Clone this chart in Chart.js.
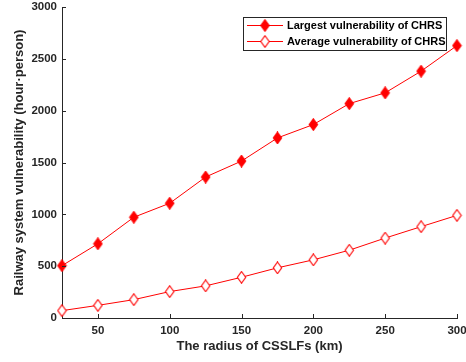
<!DOCTYPE html>
<html>
<head>
<meta charset="utf-8">
<script src="https://cdn.jsdelivr.net/npm/chart.js@4/dist/chart.umd.min.js"></script>
<style>
html,body{margin:0;padding:0;background:#fff;}
#wrap{width:466px;height:362px;position:relative;}
</style>
</head>
<body>
<div id="wrap"><canvas id="c" width="466" height="362"></canvas></div>
<script>
const radius = [25, 50, 75, 100, 125, 150, 175, 200, 225, 250, 275, 300];
const largestVuln = [505, 716, 972, 1107, 1360, 1514, 1737, 1866, 2068, 2172, 2381, 2628];
const averageVuln = [71, 122, 177, 255, 310, 393, 484, 561, 654, 771, 881, 990];
const xTicks = [50, 100, 150, 200, 250, 300];
const yTicks = [0, 500, 1000, 1500, 2000, 2500, 3000];
const seriesNames = ['Largest vulnerability of CHRS', 'Average vulnerability of CHRS'];
const xTitle = 'The radius of CSSLFs (km)';
const yTitle = 'Railway system vulnerability (hour\u00B7person)';

const RED = '#ff0000';
const AX = '#262626';
const FONT = '"Liberation Sans", Arial, sans-serif';

function diamondPath(ctx, cx, cy, hw, hh) {
  ctx.beginPath();
  ctx.moveTo(cx, cy - hh);
  ctx.lineTo(cx + hw, cy);
  ctx.lineTo(cx, cy + hh);
  ctx.lineTo(cx - hw, cy);
  ctx.closePath();
}
function makeDiamond(filled) {
  const cv = document.createElement('canvas');
  cv.width = 11; cv.height = 13;
  const g = cv.getContext('2d');
  diamondPath(g, 5.5, 6.5, 4.2, 5.8);
  g.fillStyle = filled ? RED : '#ffffff';
  g.fill();
  g.strokeStyle = RED;
  g.lineWidth = 1.1;
  g.stroke();
  return cv;
}
const dFilled = makeDiamond(true);
const dOpen = makeDiamond(false);

const innerTicks = {
  id: 'innerTicks',
  afterDraw(chart) {
    const {ctx, chartArea: a, scales: {x, y}} = chart;
    ctx.save();
    ctx.strokeStyle = AX;
    ctx.lineWidth = 1;
    ctx.beginPath();
    xTicks.forEach(v => {
      const px = Math.round(x.getPixelForValue(v)) + 0.5;
      ctx.moveTo(px, a.bottom);
      ctx.lineTo(px, a.bottom - 4);
    });
    yTicks.forEach(v => {
      const py = Math.round(y.getPixelForValue(v)) + 0.5;
      ctx.moveTo(a.left, py);
      ctx.lineTo(a.left + 4, py);
    });
    ctx.stroke();
    ctx.restore();
  }
};

const boxLegend = {
  id: 'boxLegend',
  afterDraw(chart) {
    const ctx = chart.ctx;
    const L = 243.5, R = 446.5, T = 17.5, B = 50.5;
    ctx.save();
    ctx.fillStyle = '#ffffff';
    ctx.fillRect(L, T, R - L, B - T);
    ctx.strokeStyle = AX;
    ctx.lineWidth = 1;
    ctx.strokeRect(L, T, R - L, B - T);
    const rows = [25.5, 41.5];
    const imgs = [dFilled, dOpen];
    rows.forEach((ry, i) => {
      ctx.strokeStyle = RED;
      ctx.beginPath();
      ctx.moveTo(247, ry);
      ctx.lineTo(283, ry);
      ctx.stroke();
      ctx.drawImage(imgs[i], 265 - 5.5, ry - 6.5);
      ctx.fillStyle = '#000000';
      ctx.font = 'bold 11px ' + FONT;
      ctx.textAlign = 'left';
      ctx.textBaseline = 'middle';
      ctx.fillText(seriesNames[i], 287, ry + 0.5);
    });
    ctx.restore();
  }
};

new Chart(document.getElementById('c'), {
  type: 'line',
  data: {
    datasets: [
      {
        label: seriesNames[0],
        data: radius.map((r, i) => ({x: r, y: largestVuln[i]})),
        borderColor: RED, backgroundColor: RED, borderWidth: 1,
        pointStyle: dFilled, tension: 0, clip: false
      },
      {
        label: seriesNames[1],
        data: radius.map((r, i) => ({x: r, y: averageVuln[i]})),
        borderColor: RED, backgroundColor: '#ffffff', borderWidth: 1,
        pointStyle: dOpen, tension: 0, clip: false
      }
    ]
  },
  options: {
    responsive: false,
    animation: false,
    events: [],
    layout: {padding: {top: 7, right: 0, left: 0, bottom: 0}},
    plugins: {legend: {display: false}, tooltip: {enabled: false}},
    scales: {
      x: {
        type: 'linear', min: 25, max: 300,
        afterBuildTicks: s => { s.ticks = xTicks.map(v => ({value: v})); },
        afterFit: s => { s.height = 44; s.paddingLeft = 0; s.paddingRight = 9; },
        grid: {display: false, drawTicks: false},
        border: {display: true, color: AX, width: 1},
        ticks: {color: AX, padding: 6, font: {family: FONT, size: 11.5, weight: 'bold'}, maxRotation: 0,
                callback: v => String(v)},
        title: {display: true, text: xTitle, color: AX, padding: {top: 0, bottom: 7.7},
                font: {family: FONT, size: 13, weight: 'bold'}}
      },
      y: {
        type: 'linear', min: 0, max: 3000,
        afterBuildTicks: s => { s.ticks = yTicks.map(v => ({value: v})); },
        afterFit: s => { s.width = 62; s.paddingTop = 0; s.paddingBottom = 0; },
        grid: {display: false, drawTicks: false},
        border: {display: true, color: AX, width: 1},
        ticks: {color: AX, padding: 5, font: {family: FONT, size: 11.5, weight: 'bold'},
                callback: v => String(v)},
        title: {display: true, text: yTitle, color: AX, padding: {top: 11.7, bottom: 0},
                font: {family: FONT, size: 13, weight: 'bold'}}
      }
    }
  },
  plugins: [innerTicks, boxLegend]
});
</script>
</body>
</html>
